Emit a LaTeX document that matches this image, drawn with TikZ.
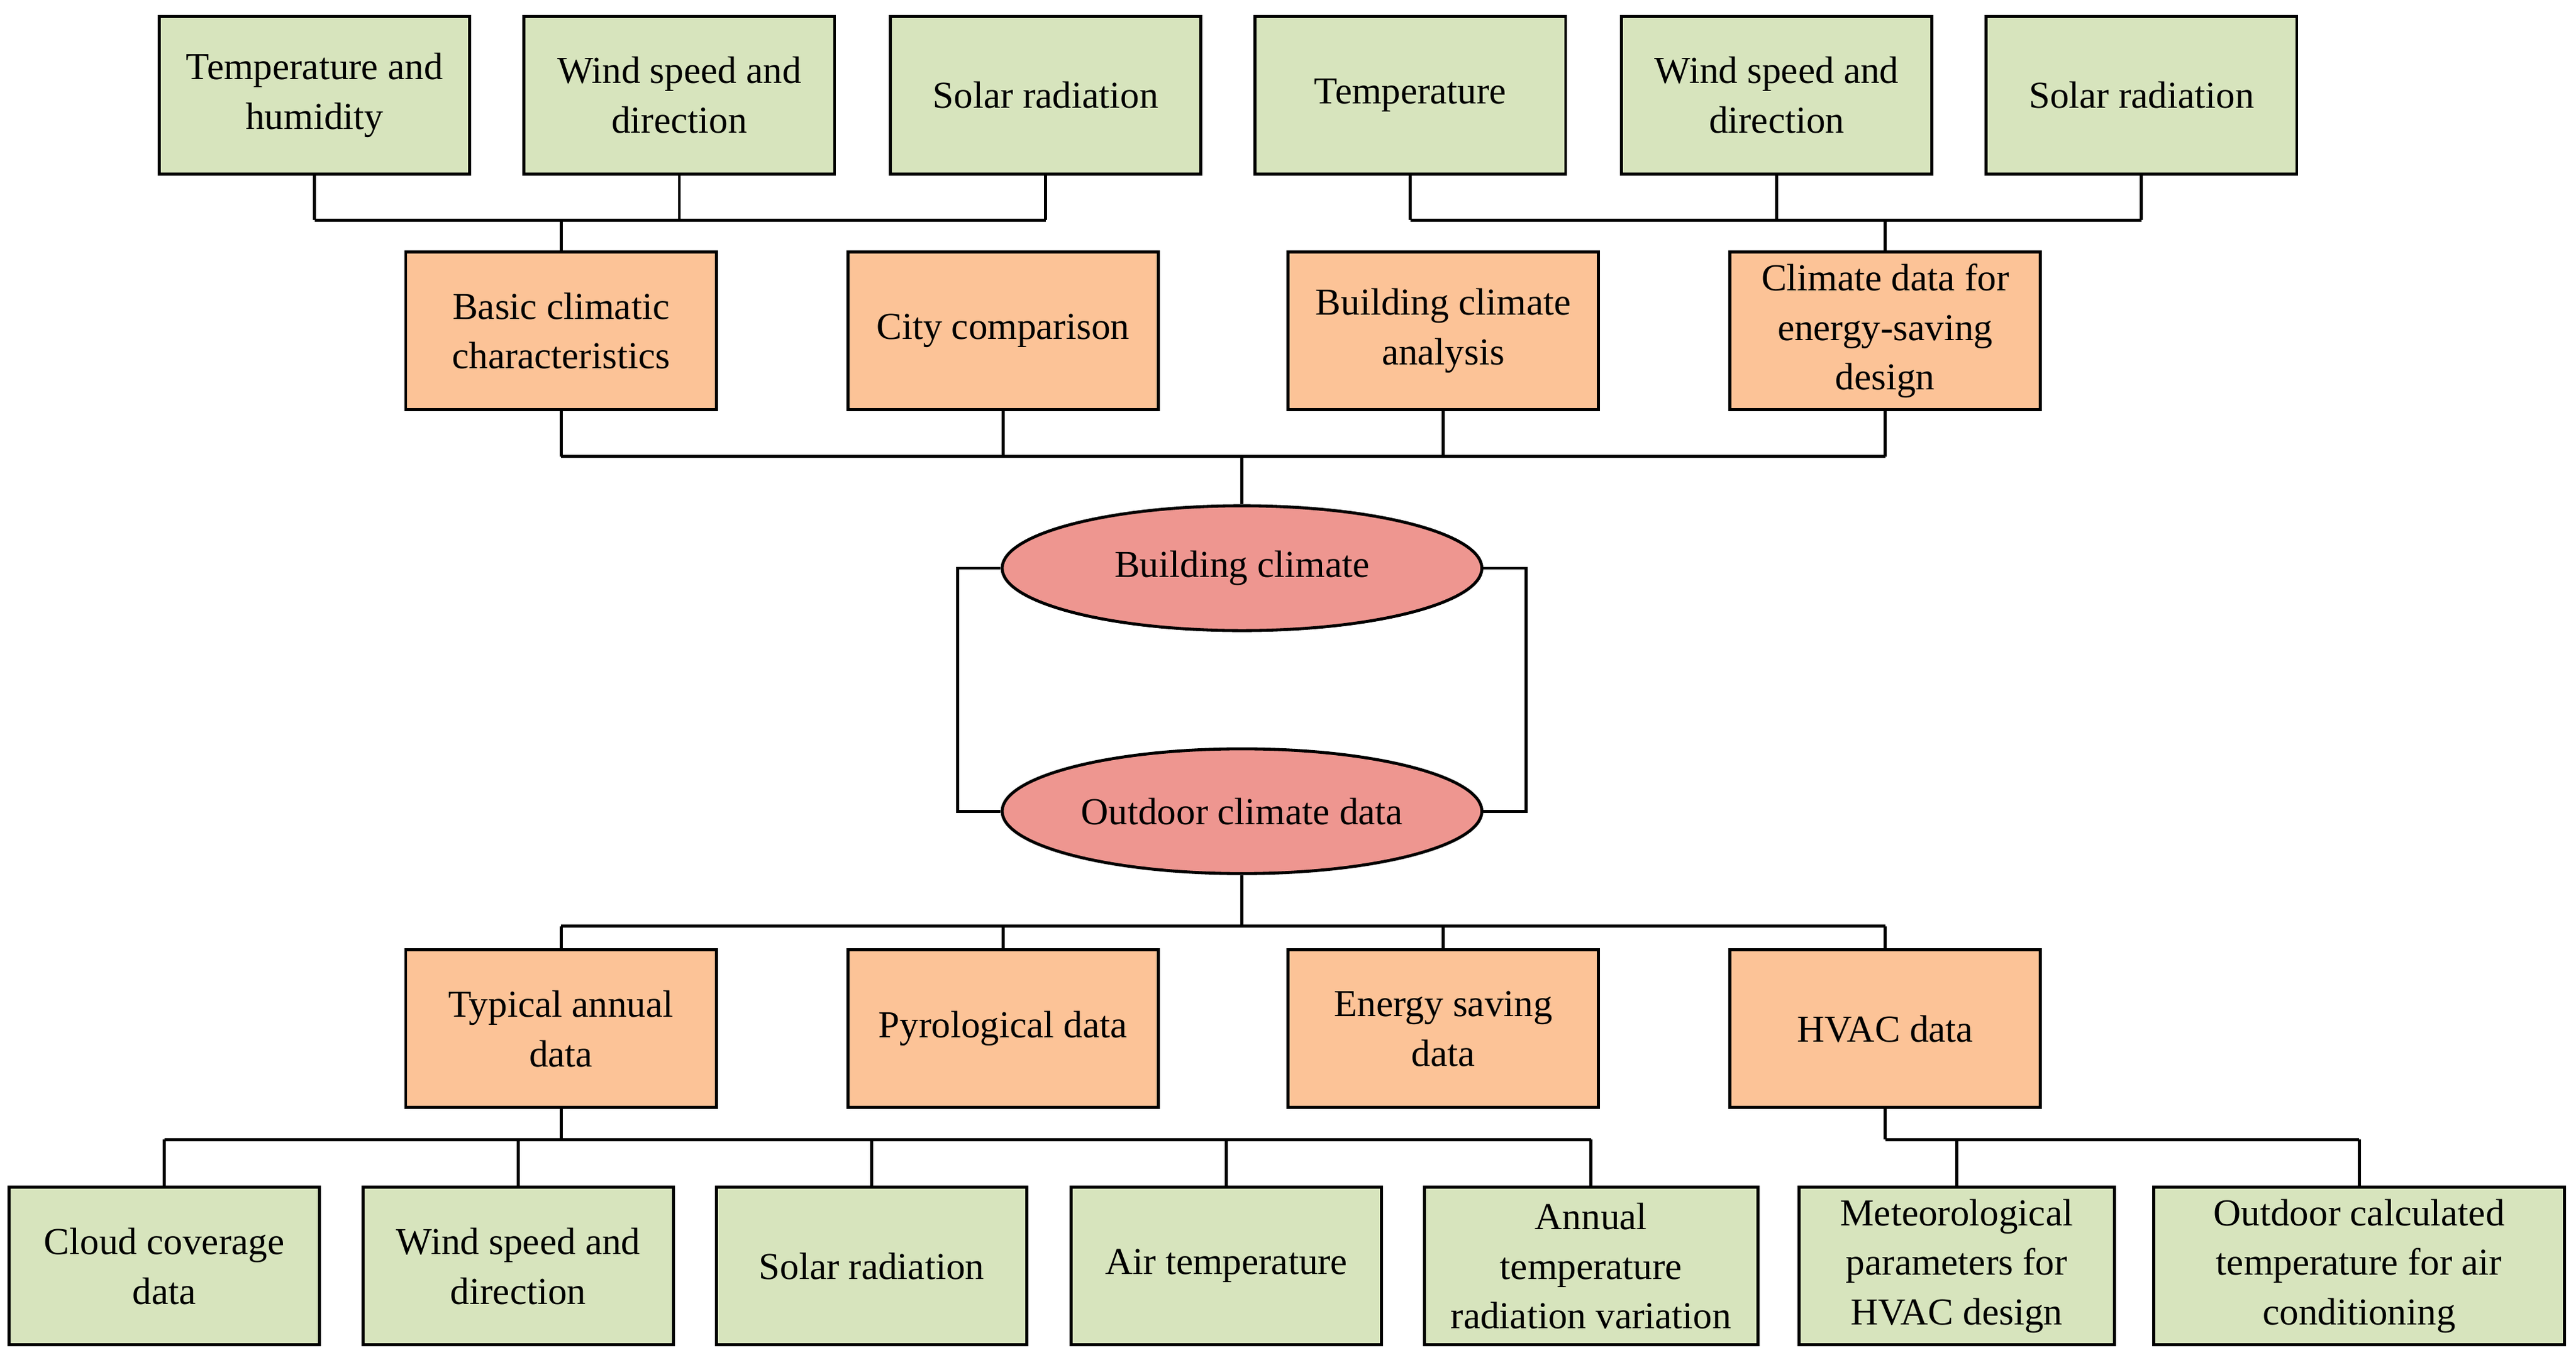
\documentclass[tikz,border=0pt]{standalone}
\usepackage{fontspec}
\setmainfont{Liberation Serif}
\usetikzlibrary{shapes.geometric}
\definecolor{gr}{HTML}{D7E4BD}
\definecolor{orc}{HTML}{FCC397}
\definecolor{ell}{HTML}{EE9690}
\begin{document}
\begin{tikzpicture}[x=0.5mm,y=-0.5mm,line width=2.6pt,
  box/.style={draw,minimum width=94.5mm,minimum height=48mm,align=center,inner sep=2pt,font=\fontsize{33}{43}\selectfont},
  g/.style={box,fill=gr}, o/.style={box,fill=orc},
  e/.style={draw,ellipse,fill=ell,minimum width=146mm,minimum height=38mm,inner sep=0,font=\fontsize{33}{43}\selectfont}]
\useasboundingbox (0,0) rectangle (1568,828);
% top green
\node[g] (t1) at (191.5,58) {Temperature and\\humidity};
\node[g] (t2) at (413.5,58) {Wind speed and\\direction};
\node[g] (t3) at (636.5,58) {Solar radiation};
\node[g] (t4) at (858.5,58) {Temperature};
\node[g] (t5) at (1081.5,58) {Wind speed and\\direction};
\node[g] (t6) at (1303.5,58) {Solar radiation};
% top orange
\node[o] (o1) at (341.5,201.5) {Basic climatic\\characteristics};
\node[o] (o2) at (610.5,201.5) {City comparison};
\node[o] (o3) at (878.5,201.5) {Building climate\\analysis};
\node[o] (o4) at (1147.5,201.5) {Climate data for\\energy-saving\\design};
% ellipses
\node[e] (e1) at (756,346) {Building climate};
\node[e] (e2) at (756,494) {Outdoor climate data};
% bottom orange
\node[o] (b1) at (341.5,626.5) {Typical annual\\data};
\node[o] (b2) at (610.5,626.5) {Pyrological data};
\node[o] (b3) at (878.5,626.5) {Energy saving\\data};
\node[o] (b4) at (1147.5,626.5) {HVAC data};
% bottom green
\node[g] (g1) at (100,771) {Cloud coverage\\data};
\node[g] (g2) at (315.5,771) {Wind speed and\\direction};
\node[g] (g3) at (530.5,771) {Solar radiation};
\node[g] (g4) at (746.5,771) {Air temperature};
\node[g,minimum width=101.5mm] (g5) at (968.5,771) {Annual\\temperature\\radiation variation};
\node[g,minimum width=96mm] (g6) at (1191,771) {Meteorological\\parameters for\\HVAC design};
\node[g,minimum width=125mm] (g7) at (1436,771) {Outdoor calculated\\temperature for air\\conditioning};
% connectors top
\foreach \n in {t1,t2,t3} \draw (\n.south) -- (\n.south|-0,134);
\draw (t1.south|-0,134) -- (t3.south|-0,134);
\draw (o1.north) -- (o1.north|-0,134);
\foreach \n in {t4,t5,t6} \draw (\n.south) -- (\n.south|-0,134);
\draw (t4.south|-0,134) -- (t6.south|-0,134);
\draw (o4.north) -- (o4.north|-0,134);
\foreach \n in {o1,o2,o3,o4} \draw (\n.south) -- (\n.south|-0,278);
\draw (o1.south|-0,278) -- (o4.south|-0,278);
\draw (e1.north) -- (e1.north|-0,278);
\draw (e1.west) -- (583,346) -- (583,494) -- (e2.west);
\draw (e1.east) -- (929,346) -- (929,494) -- (e2.east);
\draw (e2.south) -- (e2.south|-0,564);
\draw (b1.north|-0,564) -- (b4.north|-0,564);
\foreach \n in {b1,b2,b3,b4} \draw (\n.north) -- (\n.north|-0,564);
\draw (b1.south) -- (b1.south|-0,694);
\draw (g1.north|-0,694) -- (g5.north|-0,694);
\foreach \n in {g1,g2,g3,g4,g5} \draw (\n.north) -- (\n.north|-0,694);
\draw (b4.south) -- (b4.south|-0,694);
\draw (b4.south|-0,694) -- (g7.north|-0,694);
\foreach \n in {g6,g7} \draw (\n.north) -- (\n.north|-0,694);
\end{tikzpicture}
\end{document}
